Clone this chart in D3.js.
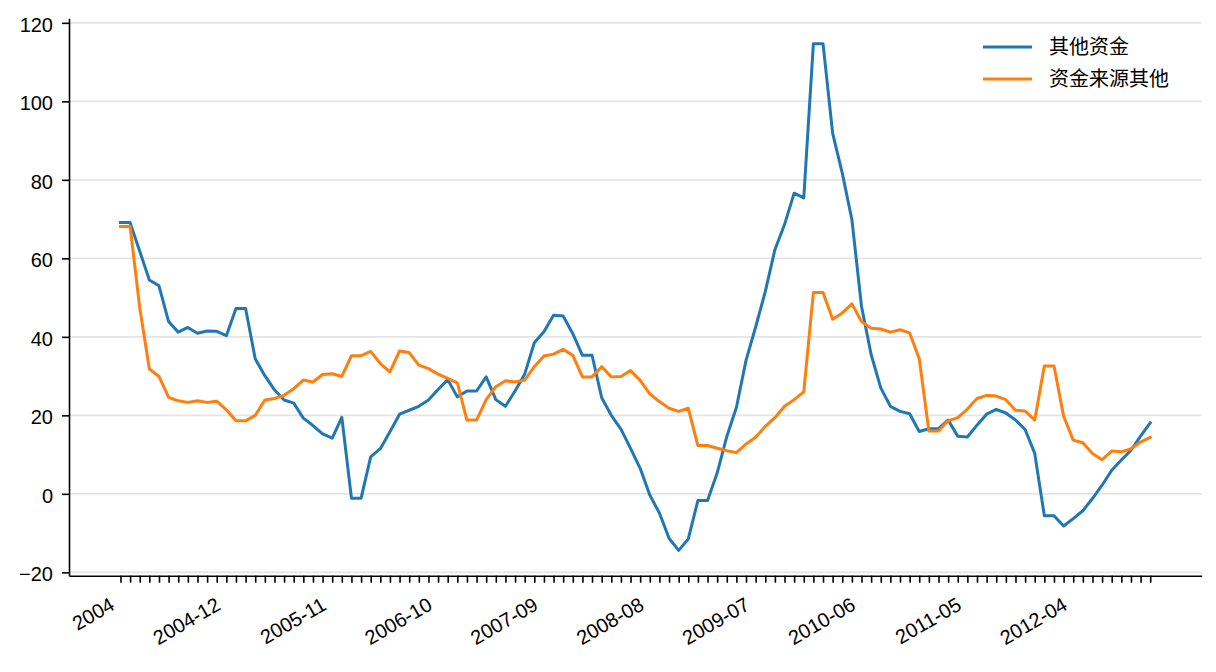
<!DOCTYPE html>
<html>
<head>
<meta charset="utf-8">
<script src="https://cdn.jsdelivr.net/npm/d3@7"></script>
<style>
  body { margin: 0; background: #fff; }
  svg { display: block; }
</style>
</head>
<body>
<div id="chart"></div>
<script>
//data, monthly from 2004-01 to 2012-12
var months = d3.timeMonth.range(new Date(2004, 0, 1), new Date(2013, 0, 1)).map(d3.timeFormat('%Y-%m'));

var otherFunds = [
    69.1, 69.1, 61.8, 54.5, 53.0, 43.9, 41.2, 42.4, 40.9, 41.5, 41.4, 40.3,
    47.2, 47.2, 34.4, 30.1, 26.5, 23.9, 23.1, 19.3, 17.4, 15.3, 14.2, 19.5,
    -1.1, -1.1, 9.4, 11.5, 15.8, 20.3, 21.3, 22.3, 23.9, 26.6, 29.1, 24.7,
    26.2, 26.2, 29.8, 24.0, 22.3, 26.2, 30.5, 38.5, 41.3, 45.5, 45.3, 40.8,
    35.3, 35.3, 24.5, 20.0, 16.5, 11.6, 6.5, -0.3, -4.9, -11.3, -14.4, -11.5,
    -1.7, -1.7, 5.3, 14.6, 22.0, 34.0, 42.5, 51.5, 62.2, 68.6, 76.6, 75.4,
    114.7, 114.7, 91.9, 81.7, 69.9, 47.8, 35.5, 27.0, 22.3, 21.0, 20.4, 15.9,
    16.6, 16.6, 18.8, 14.7, 14.5, 17.5, 20.3, 21.5, 20.6, 18.8, 16.4, 10.3,
    -5.6, -5.6, -8.2, -6.3, -4.3, -1.2, 2.2, 6.0, 8.6, 11.1, 14.7, 18.1
];

var sourceOther = [
    68.1, 68.1, 47.4, 31.8, 29.9, 24.6, 23.7, 23.3, 23.7, 23.3, 23.6, 21.4,
    18.6, 18.6, 20.0, 23.9, 24.3, 25.1, 26.8, 29.0, 28.5, 30.4, 30.6, 29.9,
    35.2, 35.2, 36.3, 33.2, 31.1, 36.4, 36.0, 32.8, 31.9, 30.5, 29.4, 28.3,
    18.8, 18.8, 24.0, 27.3, 28.8, 28.5, 29.0, 32.4, 35.1, 35.6, 36.8, 35.3,
    29.8, 29.8, 32.4, 29.8, 29.9, 31.4, 28.9, 25.5, 23.5, 21.8, 21.0, 21.8,
    12.3, 12.3, 11.6, 11.0, 10.5, 12.7, 14.4, 17.2, 19.4, 22.3, 24.0, 26.0,
    51.3, 51.3, 44.5, 46.1, 48.4, 43.9, 42.2, 42.0, 41.2, 41.8, 41.0, 34.4,
    16.0, 16.0, 18.6, 19.4, 21.6, 24.3, 25.1, 24.9, 24.0, 21.3, 21.1, 18.8,
    32.6, 32.6, 19.8, 13.7, 13.0, 10.3, 8.7, 10.9, 10.7, 11.5, 13.2, 14.4
];

var seriesNames = ['其他资金', '资金来源其他'];
var seriesColors = ['#1f77b4', '#ff7f0e'];

var xTickLabels = ['2004', '2004-12', '2005-11', '2006-10', '2007-09', '2008-08', '2009-07', '2010-06', '2011-05', '2012-04'];
var yTicks = [-20, 0, 20, 40, 60, 80, 100, 120];

//layout
var width = 1216;
var height = 672;
var plot = {'left': 69, 'right': 1201.7, 'top': 18.3, 'bottom': 575.7};
var labelFont = '"Liberation Sans", Arial, sans-serif';
var cjkFont = '"Noto Sans CJK SC", "Liberation Sans", sans-serif';

var svg = d3.select('#chart')
    .append('svg')
    .attr('width', width)
    .attr('height', height);

//scales, 5% margins like the original
var x = d3.scalePoint()
    .domain(months)
    .range([plot.left, plot.right])
    .padding(0.05 * (months.length - 1));

var allValues = otherFunds.concat(sourceOther);
var yMin = d3.min(allValues), yMax = d3.max(allValues);
var yPad = (yMax - yMin) * 0.05;
var y = d3.scaleLinear()
    .domain([yMin - yPad, yMax + yPad])
    .range([plot.bottom, plot.top]);

//grid
svg.append('g')
    .attr('class', 'grid')
    .selectAll('line')
    .data(yTicks)
    .enter().append('line')
    .attr('x1', plot.left)
    .attr('x2', plot.right)
    .attr('y1', function(d){ return y(d); })
    .attr('y2', function(d){ return y(d); })
    .style('stroke', '#e5e5e5')
    .style('stroke-width', 1.6);

//lines
var line = d3.line()
    .x(function(d, i){ return x(months[i]); })
    .y(function(d){ return y(d); });

[otherFunds, sourceOther].forEach(function(series, k){
    svg.append('path')
        .datum(series)
        .attr('d', line)
        .style('fill', 'none')
        .style('stroke', seriesColors[k])
        .style('stroke-width', 3)
        .style('stroke-linejoin', 'round')
        .style('stroke-linecap', 'square');
});

//x axis
var xAxis = d3.axisBottom(x)
    .tickSizeInner(7)
    .tickSizeOuter(0)
    .tickFormat(function(d, i){
        return i % 11 === 0 ? xTickLabels[i / 11] : '';
    });

var gx = svg.append('g')
    .attr('transform', 'translate(0,' + plot.bottom + ')')
    .call(xAxis);

gx.selectAll('text')
    .attr('x', 0)
    .attr('y', 0)
    .attr('dy', null)
    .attr('text-anchor', 'end')
    .attr('transform', 'translate(-5,33) rotate(-30)')
    .style('font-family', labelFont)
    .style('font-size', '20px')
    .style('fill', '#000');

//y axis
var yAxis = d3.axisLeft(y)
    .tickValues(yTicks)
    .tickSizeInner(7)
    .tickSizeOuter(0)
    .tickPadding(9);

var gy = svg.append('g')
    .attr('transform', 'translate(' + plot.left + ',0)')
    .call(yAxis);

gy.selectAll('text')
    .attr('dy', '0.42em')
    .style('font-family', labelFont)
    .style('font-size', '20px')
    .style('fill', '#000');

[gx, gy].forEach(function(g){
    g.select('.domain').style('stroke', '#000').style('stroke-width', 1.6);
    g.selectAll('.tick line').style('stroke', '#000').style('stroke-width', 1.6);
});

//legend
var legend = svg.append('g')
    .attr('class', 'legend')
    .attr('transform', 'translate(983,47)');

seriesNames.forEach(function(name, k){
    var row = legend.append('g')
        .attr('transform', 'translate(0,' + (k * 32) + ')');
    row.append('line')
        .attr('x1', 0)
        .attr('x2', 49)
        .attr('y1', 0)
        .attr('y2', 0)
        .style('stroke', seriesColors[k])
        .style('stroke-width', 3);
    row.append('text')
        .attr('x', 66)
        .attr('y', 0)
        .attr('dy', '0.36em')
        .style('font-family', cjkFont)
        .style('font-size', '20px')
        .style('fill', '#000')
        .text(name);
});
</script>
</body>
</html>
